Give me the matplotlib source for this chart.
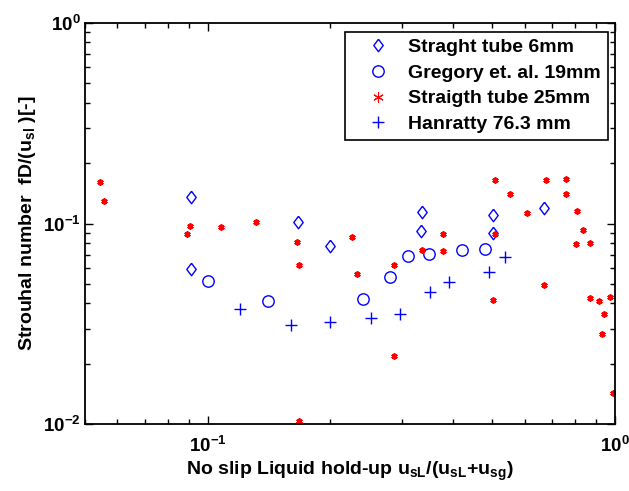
import matplotlib
matplotlib.use("Agg")
import matplotlib.pyplot as plt
from matplotlib.ticker import LogLocator, NullFormatter

plt.rcParams['font.family'] = ['Liberation Sans', 'DejaVu Sans']
plt.rcParams['font.weight'] = 'bold'
plt.rcParams['mathtext.fontset'] = 'custom'
plt.rcParams['mathtext.rm'] = 'Liberation Sans:bold'
plt.rcParams['mathtext.bf'] = 'Liberation Sans:bold'
plt.rcParams['mathtext.it'] = 'Liberation Sans:bold'
plt.rcParams['mathtext.default'] = 'bf'

# Straght tube 6mm
x_6mm = [0.091, 0.091, 0.167, 0.200, 0.336, 0.334, 0.501, 0.501, 0.671]
y_6mm = [0.136, 0.0593, 0.1017, 0.0773, 0.1137, 0.0916, 0.1106, 0.090, 0.120]

# Gregory et. al. 19mm
x_greg = [0.1003, 0.1404, 0.241, 0.280, 0.311, 0.350, 0.4217, 0.4803]
y_greg = [0.0517, 0.0410, 0.0421, 0.054, 0.0689, 0.0703, 0.074, 0.0749]

# Straigth tube 25mm
x_25mm = [0.0545, 0.0558, 0.0905, 0.0892, 0.108, 0.1312, 0.1661, 0.1673, 0.168,
          0.2265, 0.2326, 0.287, 0.2862, 0.336, 0.379, 0.378, 0.502, 0.507, 0.507,
          0.551, 0.608, 0.669, 0.679, 0.758, 0.759, 0.806, 0.835, 0.802, 0.866,
          0.866, 0.915, 0.972, 0.939, 0.927, 0.987]
y_25mm = [0.1606, 0.1287, 0.0974, 0.0886, 0.0960, 0.1017, 0.0813, 0.0623, 0.0104,
          0.0859, 0.0559, 0.0623, 0.0220, 0.0738, 0.0885, 0.0730, 0.0416, 0.0886, 0.1647,
          0.140, 0.1122, 0.0493, 0.1647, 0.1671, 0.140, 0.1151, 0.0933, 0.0793, 0.0802,
          0.0424, 0.0413, 0.0430, 0.0353, 0.0283, 0.0143]

# Hanratty 76.3 mm
x_hanr = [0.1202, 0.1604, 0.200, 0.2518, 0.297, 0.351, 0.391, 0.491, 0.538]
y_hanr = [0.0377, 0.0311, 0.0325, 0.0337, 0.0353, 0.0454, 0.0510, 0.0571, 0.0679]

labels = ['Straght tube 6mm', 'Gregory et. al. 19mm', 'Straigth tube 25mm', 'Hanratty 76.3 mm']

fig = plt.figure(figsize=(6.29, 4.91), dpi=100)
ax = fig.add_axes([0.1351, 0.1358, 0.8426, 0.818])

diamond = [(0, 1), (0.75, 0), (0, -1), (-0.75, 0), (0, 1)]
ax.plot(x_6mm, y_6mm, linestyle='none', marker=diamond, ms=9, mfc='none',
        mec='blue', mew=1.0, label=labels[0])
ax.plot(x_greg, y_greg, linestyle='none', marker='o', ms=8.2, mfc='none',
        mec='blue', mew=1.0, label=labels[1])
ax.plot(x_25mm, y_25mm, linestyle='none', marker=(6, 2, 0), ms=4.5,
        color='red', mew=1.3, label=labels[2])
ax.plot(x_hanr, y_hanr, linestyle='none', marker='+', ms=8, color='blue',
        mew=1.0, label=labels[3])

ax.set_xscale('log')
ax.set_yscale('log')
ax.set_xlim(0.05, 1)
ax.set_ylim(0.01, 1)

ax.xaxis.set_minor_locator(LogLocator(base=10, subs=range(2, 10)))
ax.yaxis.set_minor_locator(LogLocator(base=10, subs=range(2, 10)))
ax.xaxis.set_minor_formatter(NullFormatter())
ax.yaxis.set_minor_formatter(NullFormatter())

ax.tick_params(which='both', direction='in', top=True, right=True, width=1.0)
ax.tick_params(which='major', length=6, labelsize=13.5)
ax.tick_params(which='minor', length=3.5)
ax.tick_params(axis='x', which='major', pad=8)
ax.tick_params(axis='y', which='major', pad=3)
for s in ax.spines.values():
    s.set_linewidth(1.3)

ax.set_xlabel(r'No slip Liquid hold-up u$_{sL}$/(u$_{sL}$+u$_{sg}$)',
              fontsize=14, fontweight='bold', labelpad=3)
ax.set_ylabel(r'Strouhal number  fD/(u$_{sl}$ )[-]',
              fontsize=14, fontweight='bold', labelpad=4)

leg = ax.legend(loc='upper right', bbox_to_anchor=(0.986, 0.978), borderaxespad=0,
                fancybox=False, edgecolor='black', framealpha=1,
                prop={'size': 14, 'weight': 'bold'}, labelspacing=0.42,
                handlelength=2.7, handletextpad=0.2, borderpad=0.35)
leg.get_frame().set_linewidth(1.2)
leg.legend_handles[2].set_markersize(7.5)
leg.legend_handles[2].set_markeredgewidth(0.8)

fig.savefig('out.png', dpi=100)
